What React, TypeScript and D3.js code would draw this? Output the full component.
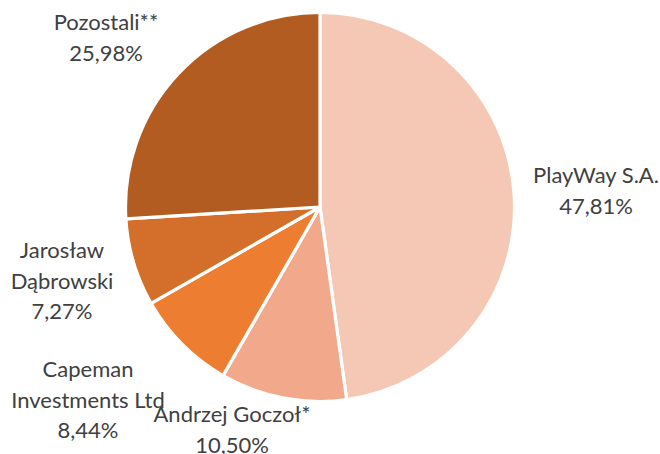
import React from "react";
import * as d3 from "d3";

const categories = ["PlayWay S.A.", "Andrzej Goczoł*", "Capeman\nInvestments Ltd", "Jarosław\nDąbrowski", "Pozostali**"];
const shares = [47.81, 10.5, 8.44, 7.27, 25.98];
const colors = ["#F5C7B5", "#F1A88B", "#ED7D31", "#D36F2B", "#B35C22"];

// label anchor (center x, first baseline y) relative to pie centre
const labelLayout: [number, number][] = [
  [276, -24],
  [-88, 215],
  [-232, 170],
  [-258, 51],
  [-214, -177],
];

const W = 660;
const H = 454;
const cx = 320;
const cy = 207;
const R = 194.5;
const lineH = 30.5;

export default function App() {
  const pie = d3.pie<number>().sort(null).value((d) => d)(shares);
  const arc = d3.arc<d3.PieArcDatum<number>>().innerRadius(0).outerRadius(R);
  const fmt = (v: number) => v.toFixed(2).replace(".", ",") + "%";
  return (
    <svg width={W} height={H} style={{ position: "absolute", left: 0, top: 0, background: "#fff" }}>
      <g transform={`translate(${cx},${cy})`}>
        {pie.map((p, i) => (
          <path key={i} d={arc(p) || ""} fill={colors[i]} stroke="#fff" strokeWidth={3.2} strokeLinejoin="round" />
        ))}
        {pie.map((p, i) => {
          const lines = [...categories[i].split("\n"), fmt(shares[i])];
          const [lx, ly] = labelLayout[i];
          return (
            <text key={"t" + i} x={lx} y={ly} textAnchor="middle" fill="#404040"
              style={{ fontFamily: "Lato, 'Open Sans', sans-serif", fontSize: 22 }}>
              {lines.map((l, j) => (
                <tspan key={j} x={lx} y={ly + j * lineH}>{l}</tspan>
              ))}
            </text>
          );
        })}
      </g>
    </svg>
  );
}
